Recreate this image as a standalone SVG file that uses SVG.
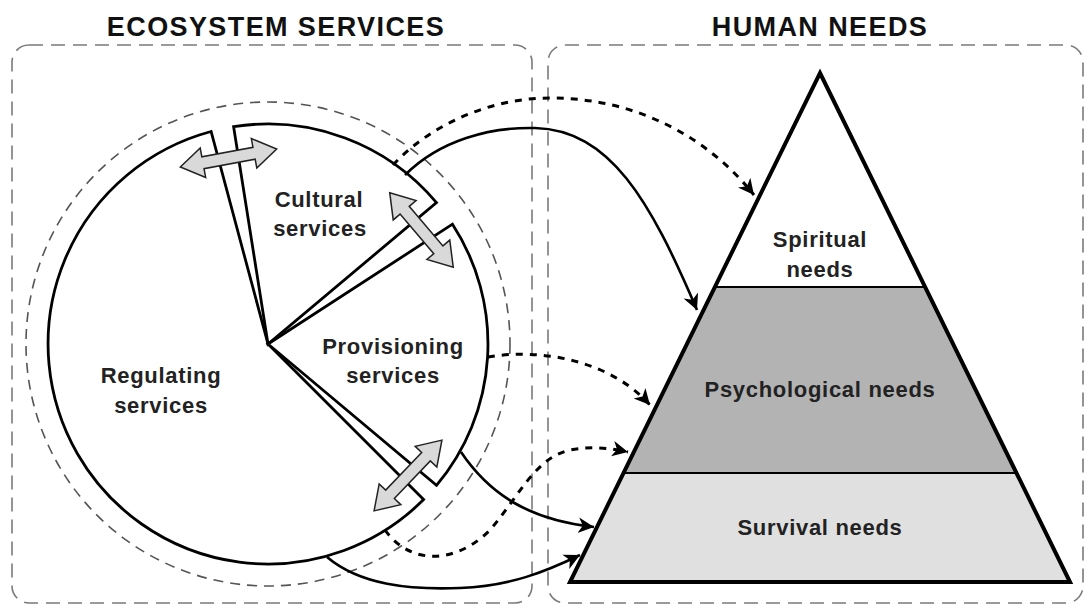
<svg xmlns="http://www.w3.org/2000/svg" width="1086" height="606" viewBox="0 0 1086 606">
<defs>
<style>
.box{fill:none;stroke:#7a7a7a;stroke-width:1.6;stroke-dasharray:14 8}
.ring{fill:none;stroke:#555;stroke-width:1.6;stroke-dasharray:10 7}
.wedge{fill:#fff;stroke:#000;stroke-width:2.8;stroke-linejoin:miter}
.dbl{fill:#d9d9d9;stroke:#222;stroke-width:1.5;stroke-linejoin:miter}
.solid{fill:none;stroke:#000;stroke-width:2.6}
.dot{fill:none;stroke:#000;stroke-width:3;stroke-dasharray:7 7}
.title{font-family:"Liberation Sans",Arial,sans-serif;font-weight:bold;font-size:27px;letter-spacing:1.4px;text-anchor:middle;fill:#111}
.lbl{font-family:"Liberation Sans",Arial,sans-serif;font-weight:bold;font-size:22px;letter-spacing:0.7px;text-anchor:middle;fill:#222}
</style>
<marker id="ah" markerUnits="userSpaceOnUse" markerWidth="18" markerHeight="18" viewBox="0 -8 16 16" refX="14" refY="0" orient="auto">
<path d="M0,-7 L14,0 L0,7 L4,0 Z" fill="#000"/>
</marker>
<path id="darrow" d="M-49,0 L-26,-15 L-26,-6 L26,-6 L26,-15 L49,0 L26,15 L26,6 L-26,6 L-26,15 Z"/>
</defs>

<g id="ecosystem-box">
<rect class="box" x="12" y="45" width="520" height="558" rx="17"/>
<text class="title" x="276" y="36">ECOSYSTEM SERVICES</text>
</g>
<g id="human-box">
<rect class="box" x="548" y="45" width="535" height="558" rx="17"/>
<text class="title" x="820" y="36">HUMAN NEEDS</text>
</g>

<g id="services-ring">
<circle class="ring" cx="268" cy="344" r="242"/>
</g>

<g id="regulating">
<path class="wedge" d="M268,344 L423.6,499.6 A220,220 0 1 1 211.1,131.5 Z"/>
<text class="lbl" x="161" y="383">Regulating</text>
<text class="lbl" x="161" y="413">services</text>
</g>
<g id="cultural">
<path class="wedge" d="M268,344 L233.6,126.7 A220,220 0 0 1 436.5,202.6 Z"/>
<text class="lbl" x="319" y="207">Cultural</text>
<text class="lbl" x="320" y="236">services</text>
</g>
<g id="provisioning">
<path class="wedge" d="M268,344 L452.5,224.2 A220,220 0 0 1 436.5,485.4 Z"/>
<text class="lbl" x="393" y="354">Provisioning</text>
<text class="lbl" x="393" y="383">services</text>
</g>

<g id="exchange-arrows">
<use href="#darrow" class="dbl" transform="translate(228.5,158) rotate(-10.5)"/>
<use href="#darrow" class="dbl" transform="translate(421.5,230) rotate(49.6)"/>
<use href="#darrow" class="dbl" transform="translate(408,475.5) rotate(-46.2)"/>
</g>

<g id="pyramid">
<g id="spiritual-needs">
<polygon points="820,73 714.9,287 925.1,287" fill="#fff"/>
<text class="lbl" x="820" y="247">Spiritual</text>
<text class="lbl" x="820" y="277">needs</text>
</g>
<g id="psychological-needs">
<polygon points="714.9,287 925.1,287 1016.4,473 623.6,473" fill="#b3b3b3" stroke="#000" stroke-width="2"/>
<text class="lbl" x="820" y="397">Psychological needs</text>
</g>
<g id="survival-needs">
<polygon points="623.6,473 1016.4,473 1070,582 570,582" fill="#e0e0e0" stroke="#000" stroke-width="2"/>
<text class="lbl" x="820" y="535">Survival needs</text>
</g>
<polygon points="820,73 1070,582 570,582" fill="none" stroke="#000" stroke-width="4" stroke-linejoin="miter"/>
</g>

<g id="connectors">
<path class="dot" marker-end="url(#ah)" d="M393,165 C430,125 490,98 550,98 C640,98 710,140 754,195"/>
<path class="solid" marker-end="url(#ah)" d="M405,175 C440,140 490,127 535,128 C610,130 650,200 697,310"/>
<path class="dot" marker-end="url(#ah)" d="M488,357 C540,348 610,360 650,405"/>
<path class="dot" marker-end="url(#ah)" d="M385,530 C410,565 455,565 490,530 C520,495 535,458 570,450 C590,446 610,448 628,452"/>
<path class="solid" marker-end="url(#ah)" d="M461,452 C490,495 530,520 594,527"/>
<path class="solid" marker-end="url(#ah)" d="M327,557 C360,585 410,590 460,588 C510,586 545,572 580,555"/>
</g>
</svg>
